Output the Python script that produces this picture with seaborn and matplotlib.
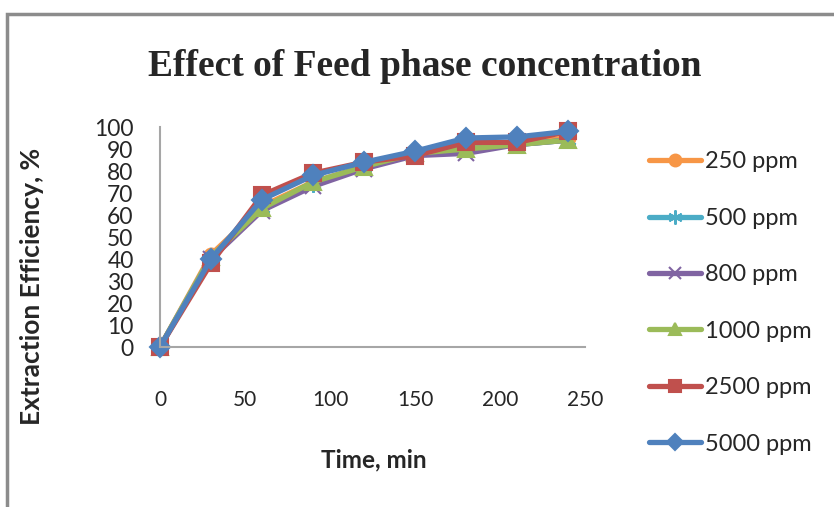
import pandas as pd
import matplotlib.pyplot as plt
import seaborn as sns
from matplotlib.patches import Rectangle

time_min = [0, 30, 60, 90, 120, 150, 180, 210, 240]
labels = ['250 ppm', '500 ppm', '800 ppm', '1000 ppm', '2500 ppm', '5000 ppm']
eff_250 = [0, 42, 64, 75, 82, 88, 91, 93, 95]
eff_500 = [0, 41, 63, 74, 82, 88, 90, 92, 94]
eff_800 = [0, 40, 62, 73, 81, 87, 88, 92, 94]
eff_1000 = [0, 41, 63, 75, 82, 88, 90, 92, 94]
eff_2500 = [0, 38, 69, 79, 84, 87, 93, 93, 98]
eff_5000 = [0, 40, 67, 78, 84, 89, 95, 95.5, 98]

colors = ['#F79646', '#4BACC6', '#8064A2', '#9BBB59', '#C0504D', '#4F81BD']
markers = ['o', (6, 2, 0), 'x', '^', 's', 'D']
sizes = [10, 12, 11, 11, 11, 10]

series = [eff_250, eff_500, eff_800, eff_1000, eff_2500, eff_5000]
df = pd.DataFrame({
    'time': time_min * len(labels),
    'eff': [v for s in series for v in s],
    'conc': [lab for lab in labels for _ in time_min],
})

sns.set_style('white')
plt.rcParams['font.family'] = ['Lato', 'DejaVu Sans']

fig = plt.figure(figsize=(8.34, 5.07), dpi=100)
ax = fig.add_axes([160 / 834, 1 - 347 / 507, 425 / 834, 220 / 507])

for i, lab in enumerate(labels):
    sub = df[df['conc'] == lab]
    sns.lineplot(data=sub, x='time', y='eff', ax=ax, color=colors[i],
                 marker=markers[i], markersize=sizes[i], linewidth=3.8,
                 markeredgecolor=colors[i], markeredgewidth=1.5, label=lab,
                 clip_on=False)

ax.set_xlim(0, 250)
ax.set_ylim(0, 100)
ax.set_xticks(range(0, 251, 50))
ax.set_yticks(range(0, 101, 10))
ax.tick_params(axis='x', length=0, pad=31, labelsize=15, colors='#262626')
ax.tick_params(axis='y', length=0, pad=19, labelsize=16.5, colors='#262626')
ax.set_xlabel('')
ax.set_ylabel('')
for side in ['top', 'right']:
    ax.spines[side].set_visible(False)
for side in ['left', 'bottom']:
    ax.spines[side].set_color('#A6A6A6')
    ax.spines[side].set_linewidth(1.5)

ax.get_legend().remove()
handles, labs = ax.get_legend_handles_labels()
fig.legend(handles, labs, loc='center left',
           bbox_to_anchor=(628 / 834, 1 - 303 / 507), frameon=False,
           fontsize=17, labelspacing=1.5, handlelength=2.2,
           handletextpad=0.15, markerscale=0.85)

fig.text(425 / 834, 1 - 66 / 507, 'Effect of Feed phase concentration',
         ha='center', va='center', fontsize=27, fontweight='bold',
         family=['Liberation Serif'])
fig.text(374 / 834, 1 - 460 / 507, 'Time, min', ha='center', va='center',
         fontsize=17.5, fontweight='bold')
fig.text(32 / 834, 1 - 286 / 507, 'Extraction Efficiency, %', ha='center',
         va='center', rotation=90, fontsize=19, fontweight='bold')

fig.patches.append(Rectangle((7 / 834, -0.1), 1.2, 0.1 + (507 - 14) / 507,
                             transform=fig.transFigure, fill=False,
                             edgecolor='#8C8C8C', linewidth=2.5))

fig.savefig('out.png', dpi=100)
